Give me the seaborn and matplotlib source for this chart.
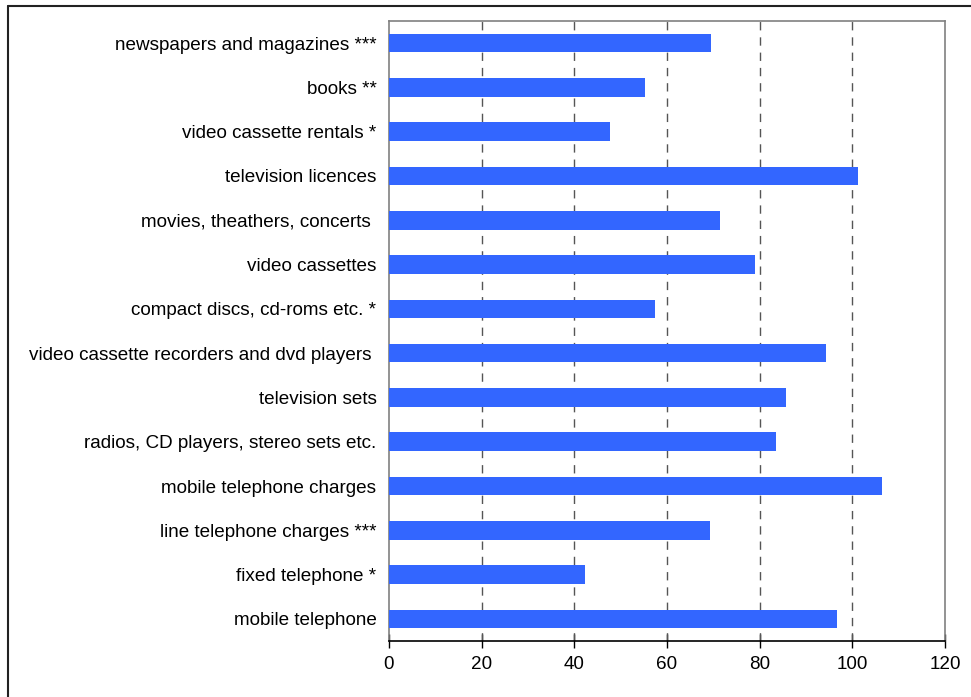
import pandas as pd
import matplotlib.pyplot as plt
import seaborn as sns
from matplotlib.lines import Line2D

# Categories, top to bottom
categories = [
    "newspapers and magazines ***",
    "books **",
    "video cassette rentals *",
    "television licences",
    "movies, theathers, concerts ",
    "video cassettes",
    "compact discs, cd-roms etc. *",
    "video cassette recorders and dvd players ",
    "television sets",
    "radios, CD players, stereo sets etc.",
    "mobile telephone charges",
    "line telephone charges ***",
    "fixed telephone *",
    "mobile telephone",
]
values = [69.6, 55.2, 47.8, 101.3, 71.5, 78.9, 57.5, 94.4, 85.6, 83.6, 106.3, 69.2, 42.2, 96.6]
x_ticks = [0, 20, 40, 60, 80, 100, 120]

df = pd.DataFrame({"item": categories, "value": values})

sns.set_theme(style="white")
plt.rcParams["font.family"] = ["Liberation Sans", "DejaVu Sans"]

fig = plt.figure(figsize=(9.71, 6.97), dpi=100)
ax = fig.add_axes([0.4006, 0.0803, 0.9732 - 0.4006, 0.9699 - 0.0803])

sns.barplot(data=df, x="value", y="item", orient="h", color="#3366FF",
            saturation=1, width=0.42, linewidth=0, ax=ax, zorder=3)

ax.set_xlim(0, 120)
ax.set_ylim(len(categories) - 0.5, -0.5)
ax.set_xticks(x_ticks)
ax.set_xlabel("")
ax.set_ylabel("")

# dashed vertical gridlines
for t in x_ticks[1:-1]:
    ax.axvline(t, color="#555555", lw=1, linestyle=(0, (6, 5)), zorder=1)

ax.tick_params(axis="x", bottom=True, direction="inout", length=10, width=1,
               color="black", labelsize=13.6, pad=6, labelcolor="black")
ax.tick_params(axis="y", left=False, length=0, labelsize=13.6, pad=9, labelcolor="black")

for side in ["top", "right", "left"]:
    ax.spines[side].set_color("#808080")
    ax.spines[side].set_linewidth(1.2)
ax.spines["bottom"].set_color("black")
ax.spines["bottom"].set_linewidth(1.2)

# outer frame (top and left edges visible)
fig.add_artist(Line2D([8 / 971, 1], [1 - 6 / 697, 1 - 6 / 697], color="#222222", lw=1.5,
                      transform=fig.transFigure))
fig.add_artist(Line2D([8 / 971, 8 / 971], [0, 1 - 6 / 697], color="#222222", lw=1.5,
                      transform=fig.transFigure))

fig.savefig("out.png", dpi=100)
